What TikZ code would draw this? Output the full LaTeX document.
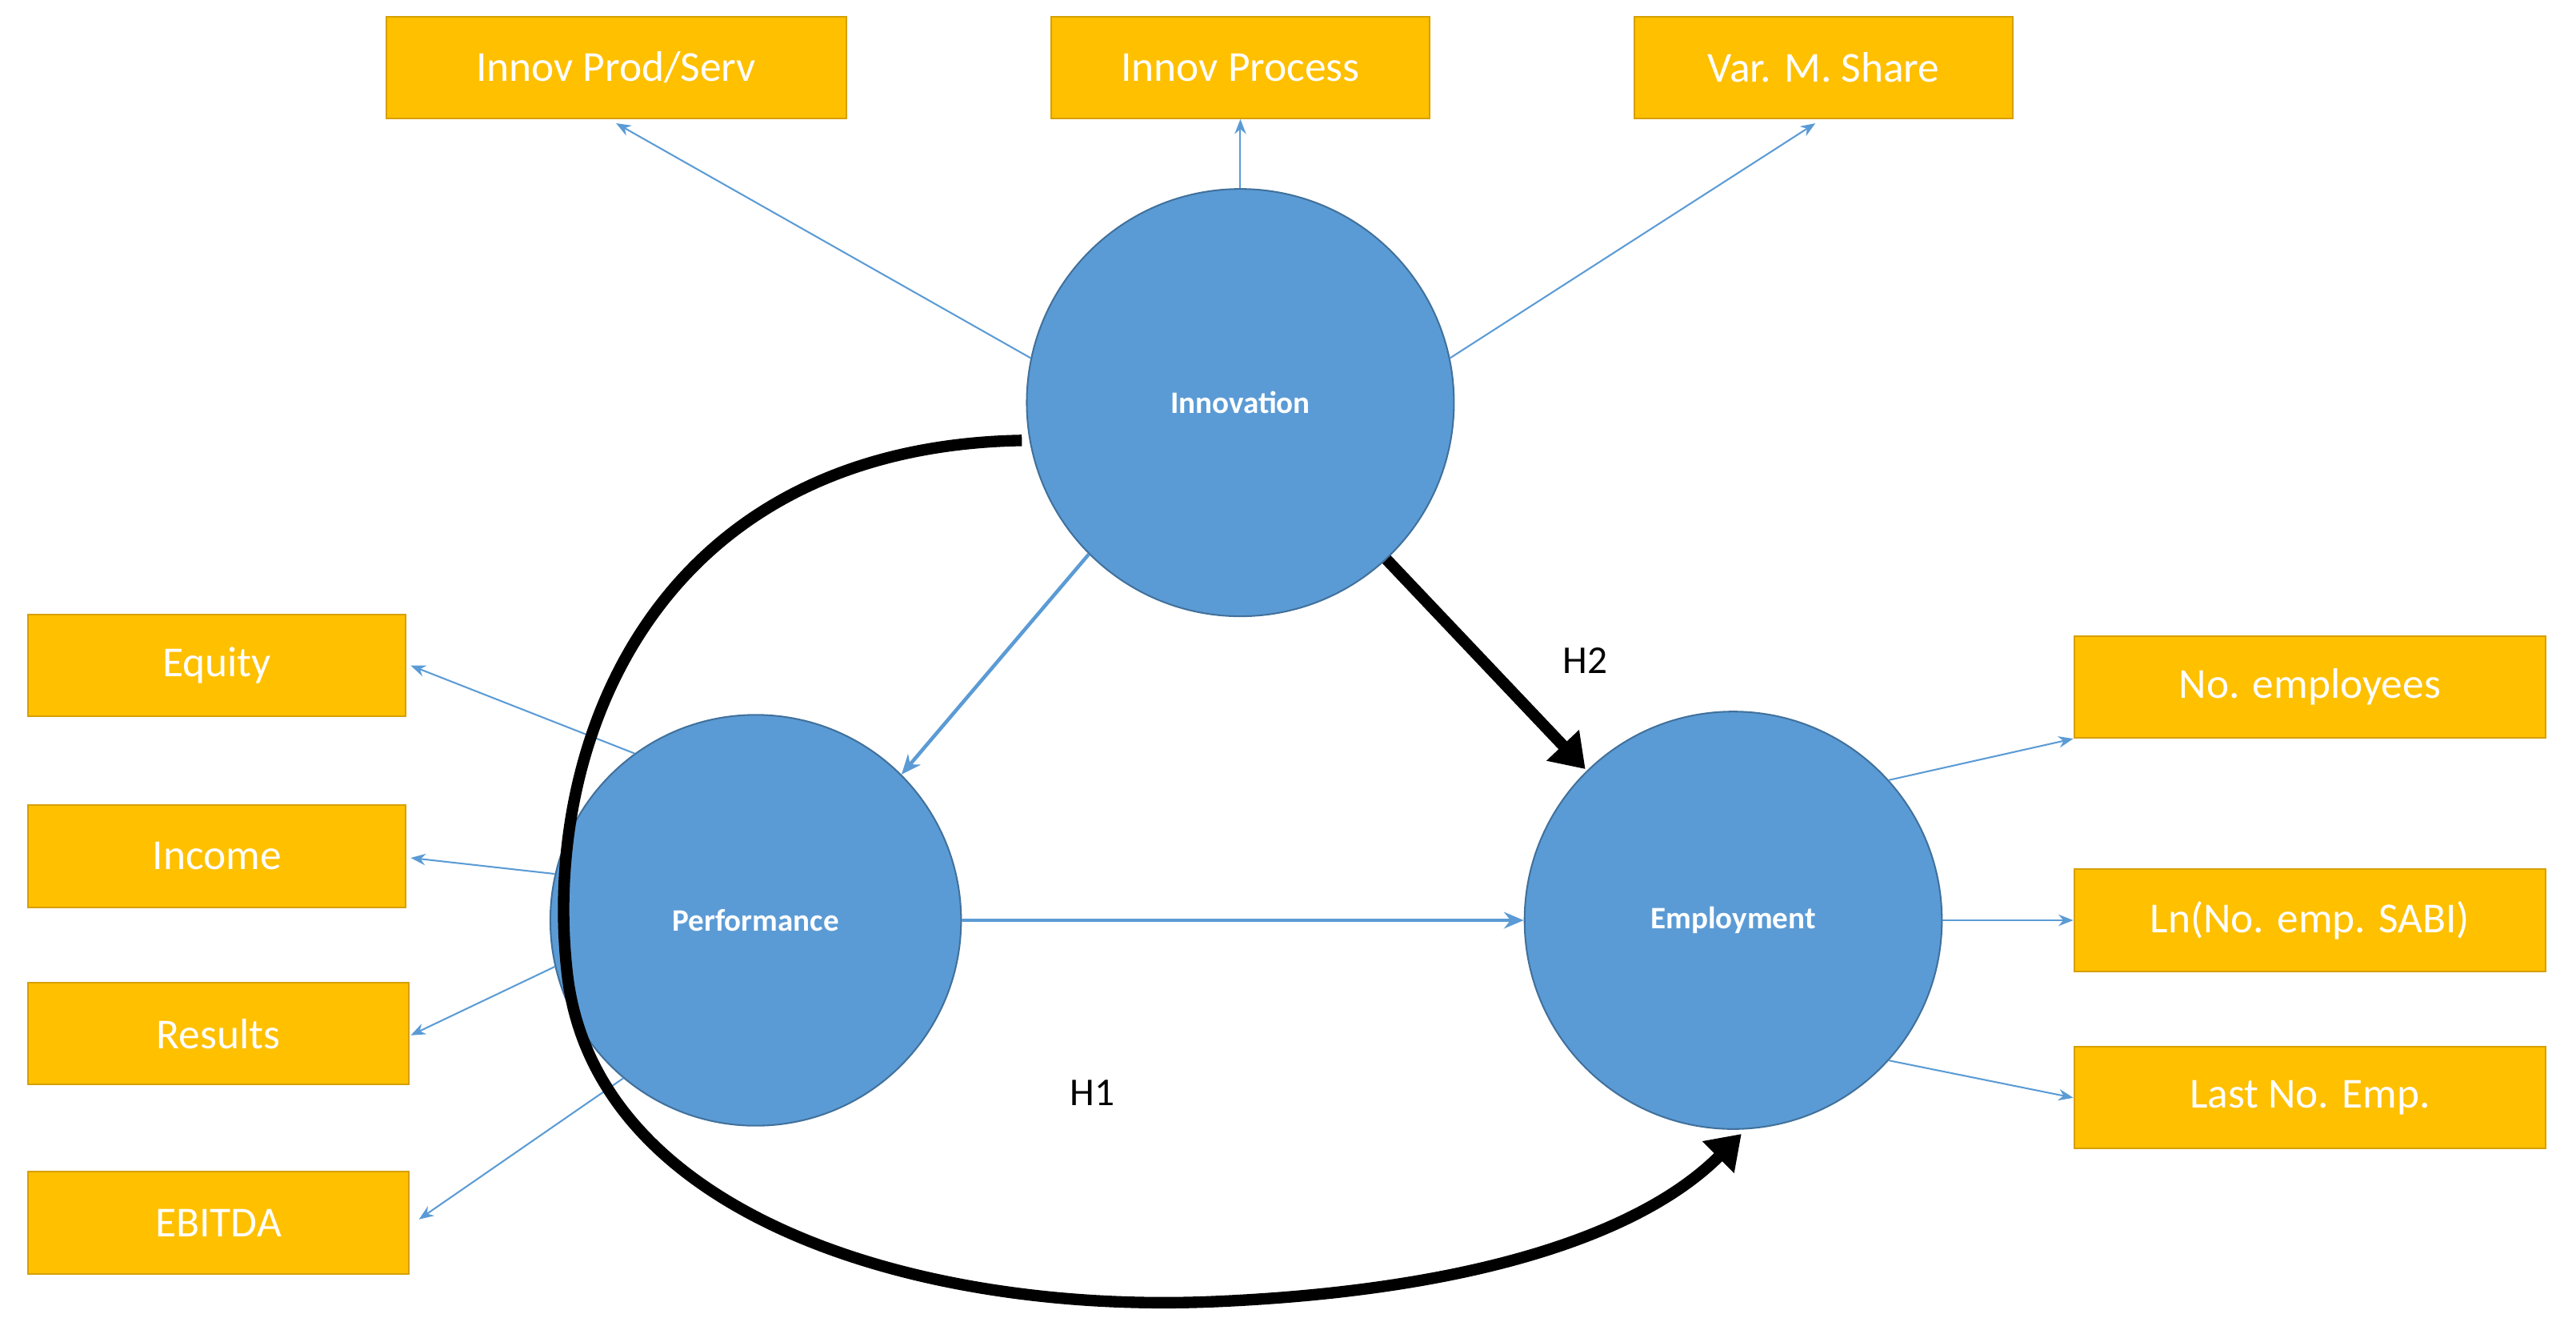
\documentclass[tikz,border=0pt]{standalone}
\usepackage{fontspec}
\setmainfont{Carlito}
\usetikzlibrary{arrows.meta}
\definecolor{boxfill}{HTML}{FFC000}
\definecolor{boxline}{HTML}{D6A000}
\definecolor{circfill}{HTML}{5B9BD5}
\definecolor{circline}{HTML}{41719C}
\definecolor{arr}{HTML}{5B9BD5}
\begin{document}
\begin{tikzpicture}[x=1pt,y=-1pt,
  box/.style={draw=boxline,line width=1pt,fill=boxfill,minimum height=62pt,text=white,font=\fontsize{26}{30}\selectfont,inner sep=0pt},
  circ/.style={circle,draw=circline,line width=1pt,fill=circfill,text=white,font=\bfseries\fontsize{19}{22}\selectfont,inner sep=0pt},
  thin/.style={draw=arr,line width=1pt,-{Stealth[length=9pt,width=7pt]}},
  mid/.style={draw=arr,line width=2.2pt,-{Stealth[length=12pt,width=10pt]}},
  thick/.style={draw=black,line width=7pt,-{Triangle[length=20pt,width=26pt]}}]
\useasboundingbox (0,0) rectangle (1568,809);
\node[box,minimum width=280pt] (ips) at (375,41) {Innov Prod/Serv};
\node[box,minimum width=230pt] (ipr) at (755,41) {Innov Process};
\node[box,minimum width=230pt] (vms) at (1110,41) {Var. M. Share};
\node[box,minimum width=230pt] (eq) at (132,405) {Equity};
\node[box,minimum width=230pt] (inc) at (132,521) {Income};
\node[box,minimum width=232pt] (res) at (133,629) {Results};
\node[box,minimum width=232pt] (ebi) at (133,744) {EBITDA};
\node[box,minimum width=287pt] (noe) at (1406,418) {No. employees};
\node[box,minimum width=287pt] (ln) at (1406,560) {Ln(No. emp. SABI)};
\node[box,minimum width=287pt] (last) at (1406,668) {Last No. Emp.};
\node[circ,minimum size=260pt] (inn) at (755,245) {Innovation};
\node[circ,minimum size=250pt] (perf) at (460,560) {Performance};
\node[circ,minimum size=254pt] (emp) at (1055,560) {Employment};
\draw[thin] (inn.180-12) -- (375,75);
\draw[thin] (inn.north) -- (ipr.south);
\draw[thin] (inn.12) -- (1105,75);
\draw[thin] (perf.126) -- (250,405);
\draw[thin] (perf.167) -- (250,522);
\draw[thin] (perf.193) -- (250,630);
\draw[thin] (perf.230) -- (255,742);
\draw[thin] (emp.42) -- (noe.south west);
\draw[thin] (emp.east) -- (ln.west);
\draw[thin] (emp.-42) -- (last.west);
\draw[mid] (inn.-135) -- (perf.45);
\draw[mid] (perf.east) -- (emp.west);
\draw[thick] (inn.-47) -- (965,468);
\node[font=\fontsize{24}{28}\selectfont] (h2) at (965,402) {H2};
\node[font=\fontsize{24}{28}\selectfont] (h1) at (665,665) {H1};
\coordinate (cs) at (622,268);
\coordinate (ce) at (1060,690);
\draw[thick] (cs) .. controls (400,272) and (330,450) .. (345,590)
  .. controls (360,740) and (560,800) .. (740,792)
  .. controls (900,785) and (1000,750) .. (ce);
\end{tikzpicture}
\end{document}
